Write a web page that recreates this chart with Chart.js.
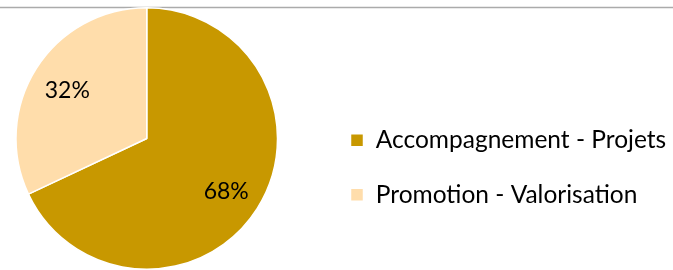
<!DOCTYPE html>
<html>
<head>
<meta charset="utf-8">
<script src="https://cdn.jsdelivr.net/npm/chart.js@4"></script>
<style>
  body { margin: 0; background: #fff; }
</style>
</head>
<body>
<canvas id="myChart" width="673" height="270"></canvas>
<script>
const labels = ["Accompagnement - Projets", "Promotion - Valorisation"];
const shares = [68, 32];
const colors = ["#C89800", "#FFDDAB"];

// thin grey rule across the top of the picture
const topRule = {
  id: "topRule",
  beforeDraw(chart) {
    const ctx = chart.ctx;
    ctx.save();
    ctx.strokeStyle = "#ababab";
    ctx.lineWidth = 1.5;
    ctx.beginPath();
    ctx.moveTo(0, 7.5);
    ctx.lineTo(chart.width, 7.5);
    ctx.stroke();
    ctx.restore();
  },
};

// pie sits in the left part, with some room before the legend
const legendGap = {
  id: "legendGap",
  afterLayout(chart) {
    const area = chart.chartArea;
    area.left = 0;
    area.right = chart.legend.left - 27;
    area.width = area.right - area.left;
  },
};

// percentage labels inside the slices
const sliceLabels = {
  id: "sliceLabels",
  afterDatasetsDraw(chart) {
    const ctx = chart.ctx;
    const meta = chart.getDatasetMeta(0);
    ctx.save();
    ctx.font = "23px Lato";
    ctx.fillStyle = "#000";
    ctx.textAlign = "center";
    ctx.textBaseline = "middle";
    meta.data.forEach((arc, i) => {
      const mid = (arc.startAngle + arc.endAngle) / 2;
      const r = arc.outerRadius * 0.72;
      ctx.fillText(shares[i] + "%", arc.x + Math.cos(mid) * r, arc.y + Math.sin(mid) * r + 3);
    });
    ctx.restore();
  },
};

const ctx = document.getElementById("myChart").getContext("2d");
const myChart = new Chart(ctx, {
  type: "pie",
  data: {
    labels: labels,
    datasets: [
      {
        data: shares,
        backgroundColor: colors,
        borderColor: "#ffffff",
        borderWidth: 1.5,
      },
    ],
  },
  options: {
    responsive: false,
    animation: false,
    layout: {
      // negative left padding lets the wide legend keep its full width
      padding: { top: 7, bottom: -2, left: -30, right: 2 },
    },
    plugins: {
      legend: {
        position: "right",
        align: "center",
        // empty title only pushes the entries down a little
        title: { display: true, text: "", font: { size: 28, lineHeight: 2 } },
        labels: {
          boxWidth: 13,
          boxHeight: 13,
          padding: 30,
          color: "#000",
          font: { family: "Lato", size: 24.5 },
        },
      },
      tooltip: { enabled: false },
    },
  },
  plugins: [topRule, legendGap, sliceLabels],
});
</script>
</body>
</html>
